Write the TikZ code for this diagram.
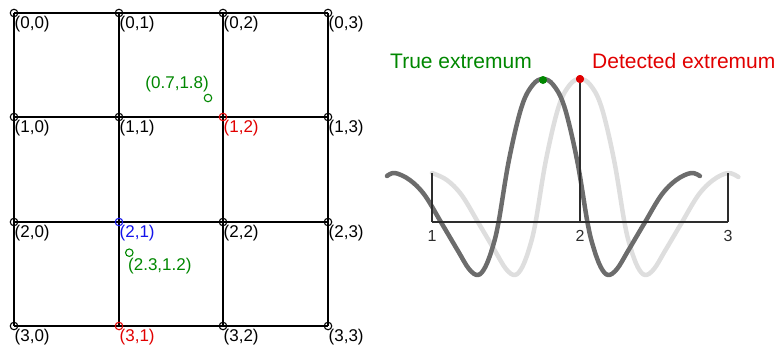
\documentclass[tikz,border=0pt]{standalone}
\usepackage{fontspec}
\setmainfont{Liberation Sans}
\definecolor{ptgreen}{RGB}{0,135,0}
\definecolor{ptred}{RGB}{225,0,0}
\definecolor{ptblue}{RGB}{20,20,235}
\definecolor{curvedark}{RGB}{108,108,108}
\definecolor{curvelight}{RGB}{222,222,222}
\definecolor{axisgray}{RGB}{45,45,45}
\tikzset{
  gridline/.style={line width=2pt, black},
  ptcircle/.style={circle, draw=#1, line width=1.1pt, inner sep=0pt, minimum size=7.5pt},
  ptlabel/.style={anchor=north west, inner sep=0pt, text=#1, font=\fontsize{17}{20}\selectfont},
  curve/.style={line width=4.5pt, line cap=round, line join=round},
  axisline/.style={line width=2pt, axisgray},
  ticklabel/.style={anchor=north, inner sep=0pt, text=axisgray, font=\fontsize{16}{18}\selectfont},
  toplabel/.style={anchor=base west, inner sep=0pt, font=\fontsize{21}{24}\selectfont},
  dot/.style={circle, fill=#1, inner sep=0pt, minimum size=8pt}
}
\begin{document}
\begin{tikzpicture}[x=1pt,y=-1pt]
\useasboundingbox (0,0) rectangle (779,349);
% grid coordinates
\foreach \i/\yy in {0/13,1/117,2/222,3/326}{
  \foreach \j/\xx in {0/14,1/119,2/223,3/328}{
    \coordinate (p\i\j) at (\xx,\yy);
  }
}
\foreach \i in {0,1,2,3}{
  \draw[gridline] (p\i0) -- (p\i3);
  \draw[gridline] (p0\i) -- (p3\i);
}
\foreach \i/\j/\c in {0/0/black,0/1/black,0/2/black,0/3/black,
                      1/0/black,1/1/black,1/2/ptred,1/3/black,
                      2/0/black,2/1/ptblue,2/2/black,2/3/black,
                      3/0/black,3/1/ptred,3/2/black,3/3/black}{
  \node[ptcircle=\c] (c\i\j) at (p\i\j) {};
  \node[ptlabel=\c] (l\i\j) at ([shift={(0.5,2.5)}]p\i\j) {(\i,\j)};
}
% off-grid points
\node[ptcircle=ptgreen] (g1) at (208,98) {};
\node[anchor=south east, inner sep=0pt, text=ptgreen, font=\fontsize{17}{20}\selectfont] (g1l) at ([shift={(1,-5.5)}]g1) {(0.7,1.8)};
\node[ptcircle=ptgreen] (g2) at (129.3,252.7) {};
\node[ptlabel=ptgreen] (g2l) at ([shift={(-1.3,5)}]g2) {(2.3,1.2)};

% curves
\begin{scope}[shift={(580,222)}, x=148pt, y=1pt]
\draw[curve, curvelight] plot[smooth, tension=0.6] coordinates {
 (-1.0,49) (-0.9,42) (-0.8,27) (-0.69,0) (-0.63,-15) (-0.57,-30) (-0.5,-47) (-0.44,-53) (-0.39,-45) (-0.34,-25) (-0.3,0) (-0.23,62) (-0.145,115) (-0.07,137) (0,143)
 (0.07,137) (0.145,115) (0.23,62) (0.3,0) (0.34,-25) (0.39,-45) (0.44,-53) (0.5,-47) (0.57,-30) (0.63,-15) (0.69,0) (0.8,27) (0.9,42) (1.0,49) (1.07,45)};
\end{scope}
\begin{scope}[shift={(543,222)}, x=148pt, y=1pt]
\draw[curve, curvedark] plot[smooth, tension=0.6] coordinates {
 (-1.054,46) (-1.0,49) (-0.9,42) (-0.8,27) (-0.69,0) (-0.63,-15) (-0.57,-30) (-0.5,-47) (-0.44,-53) (-0.39,-45) (-0.34,-25) (-0.3,0) (-0.23,62) (-0.145,115) (-0.07,137) (0,143)
 (0.07,137) (0.145,115) (0.23,62) (0.3,0) (0.34,-25) (0.39,-45) (0.44,-53) (0.5,-47) (0.57,-30) (0.63,-15) (0.69,0) (0.8,27) (0.9,42) (1.0,49) (1.06,46)};
\end{scope}

% axis
\coordinate (ax1) at (432,222);
\coordinate (ax2) at (580,222);
\coordinate (ax3) at (728,222);
\coordinate (tk1) at (432,173);
\coordinate (tk3) at (728,173);
\node[dot=ptred] (det) at (580,79) {};
\node[dot=ptgreen] (tru) at (543,80) {};
\draw[axisline] (ax1) -- (ax3);
\draw[axisline] (ax1) -- (tk1);
\draw[axisline] (ax3) -- (tk3);
\draw[axisline] (ax2) -- (det.center);
\node[dot=ptred] at (det) {};
\node[ticklabel] (n1) at (432,230) {1};
\node[ticklabel] (n2) at (580,230) {2};
\node[ticklabel] (n3) at (728,230) {3};
\node[toplabel, text=ptgreen] (tl) at (390,68) {True extremum};
\node[toplabel, text=ptred] (dl) at (592,68) {Detected extremum};
\end{tikzpicture}
\end{document}
